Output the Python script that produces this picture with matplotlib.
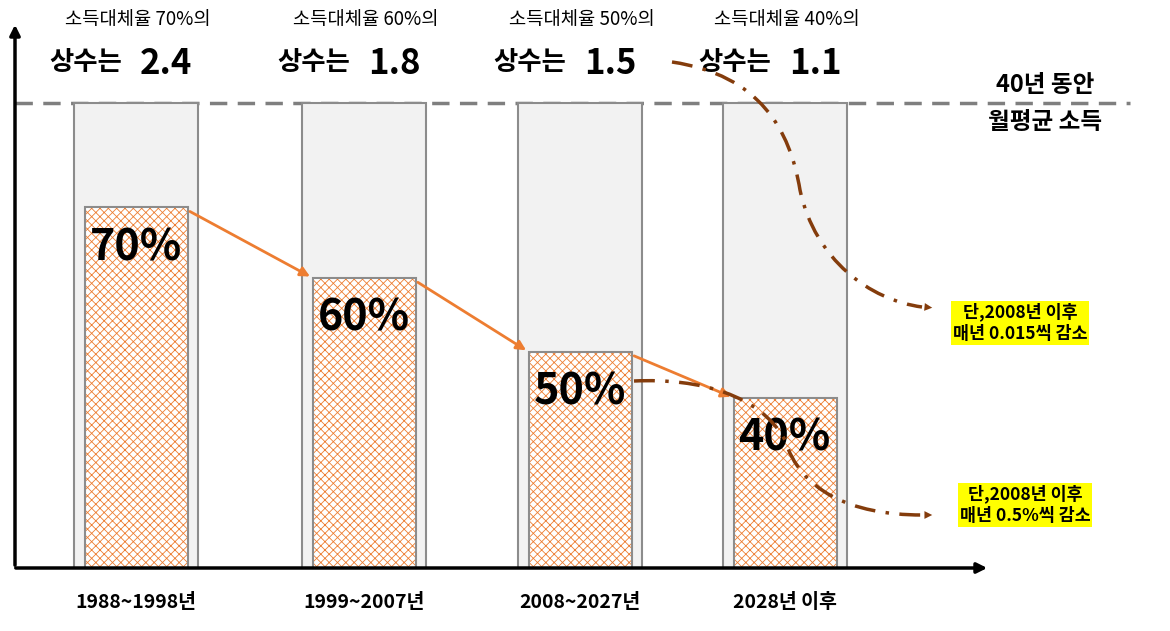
import matplotlib
matplotlib.use("Agg")
import matplotlib.pyplot as plt
from matplotlib.patches import FancyArrowPatch, Rectangle
from matplotlib.path import Path
from matplotlib.patches import PathPatch

plt.rcParams['font.family'] = ['Noto Sans CJK KR', 'DejaVu Sans']
plt.rcParams['hatch.linewidth'] = 0.6

periods = ["1988~1998년", "1999~2007년", "2008~2027년", "2028년 이후"]
ratios = ["70%", "60%", "50%", "40%"]
bar_levels = [0.776, 0.624, 0.465, 0.366]   # relative to 40-year average income
constants = ["2.4", "1.8", "1.5", "1.1"]

W, H = 1170, 631
fig = plt.figure(figsize=(W/100, H/100), dpi=100)
ax = fig.add_axes([0, 0, 1, 1])
ax.set_xlim(0, W); ax.set_ylim(H, 0); ax.axis('off')

base = 568; full = 465
centers = [136, 364, 580, 785]
outer_w = 124; inner_w = 103
for c, lv, r, p, k in zip(centers, bar_levels, ratios, periods, constants):
    ax.add_patch(Rectangle((c-outer_w/2, base-full), outer_w, full, facecolor='#f2f2f2',
                           edgecolor='#8c8c8c', lw=1.5, zorder=1))
    h = lv*full
    ax.add_patch(Rectangle((c-inner_w/2, base-h), inner_w, h, facecolor='white',
                           edgecolor='#ED7D31', hatch='xxxx', lw=0, zorder=2))
    ax.add_patch(Rectangle((c-inner_w/2, base-h), inner_w, h, facecolor='none',
                           edgecolor='#8c8c8c', lw=1.5, zorder=3))
    ax.text(c-inner_w/2+5, base-h+40, r, fontsize=31, fontweight='bold', va='center', ha='left', zorder=4)
    ax.text(c, 603, p, fontsize=14, fontweight='bold', ha='center', va='center')
    ax.text(c+2, 20, f"소득대체율 {r}의", fontsize=13.5, ha='center', va='center')
    ax.text(c-50, 63, "상수는", fontsize=19, fontweight='bold', ha='center', va='center')
    ax.text(c+30, 63, k, fontsize=25, fontweight='bold', ha='center', va='center')

# axes
ax.add_patch(FancyArrowPatch((15, 568), (15, 22), arrowstyle='-|>', mutation_scale=15, lw=2.5, color='black', zorder=5))
ax.add_patch(FancyArrowPatch((13, 568), (990, 568), arrowstyle='-|>', mutation_scale=15, lw=2.5, color='black', zorder=5))
# dashed line
ax.plot([15, 1130], [base-full, base-full], ls=(0, (5, 3)), color='#7f7f7f', lw=2.5, zorder=0)
ax.text(1045, 85, "40년 동안", fontsize=17, fontweight='bold', ha='center', va='center')
ax.text(1045, 122, "월평균 소득", fontsize=17, fontweight='bold', ha='center', va='center')

# orange arrows between bar tops
for i in range(3):
    x0 = centers[i]+inner_w/2; y0 = base-bar_levels[i]*full+3
    x1 = centers[i+1]-inner_w/2; y1 = base-bar_levels[i+1]*full
    ax.add_patch(FancyArrowPatch((x0, y0), (x1, y1), arrowstyle='-|>', mutation_scale=14,
                                 lw=2, color='#ED7D31', zorder=6))

brown = '#843C0C'
def curve(pts, codes):
    pp = PathPatch(Path(pts, codes), facecolor='none', edgecolor=brown, lw=2.5,
                   ls=(0, (6, 3, 1, 3)), zorder=6)
    ax.add_patch(pp)
C = Path.CURVE4
curve([(672, 62), (760, 75), (790, 130), (800, 190), (815, 260), (870, 300), (922, 307)],
      [Path.MOVETO, C, C, C, C, C, C])
ax.add_patch(FancyArrowPatch((915, 306), (935, 308), arrowstyle='-|>', mutation_scale=14, color=brown, lw=0, zorder=6))
curve([(634, 381), (700, 378), (760, 395), (785, 440), (800, 490), (850, 515), (922, 515)],
      [Path.MOVETO, C, C, C, C, C, C])
ax.add_patch(FancyArrowPatch((915, 515), (935, 515), arrowstyle='-|>', mutation_scale=14, color=brown, lw=0, zorder=6))

bbox = dict(facecolor='#FFFF00', edgecolor='none', pad=1)
ax.text(1020, 323, "단,2008년 이후\n매년 0.015씩 감소", fontsize=12.5, fontweight='bold', ha='center', va='center',
        bbox=bbox, linespacing=1.3)
ax.text(1025, 505, "단,2008년 이후\n매년 0.5%씩 감소", fontsize=12.5, fontweight='bold', ha='center', va='center',
        bbox=bbox, linespacing=1.3)

fig.savefig("out.png", dpi=100)
